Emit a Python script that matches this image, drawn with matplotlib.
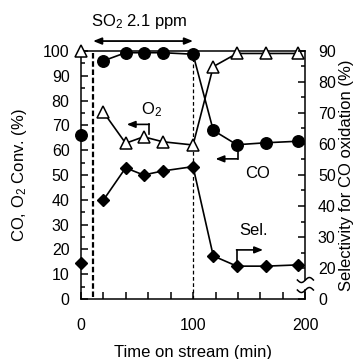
import matplotlib
matplotlib.use("Agg")
import matplotlib.pyplot as plt
from matplotlib.ticker import MultipleLocator, FixedLocator
import numpy as np

plt.rcParams['font.family'] = ['Liberation Sans', 'DejaVu Sans']
plt.rcParams['mathtext.fontset'] = 'custom'
plt.rcParams['mathtext.rm'] = 'Liberation Sans'
plt.rcParams['mathtext.it'] = 'Liberation Sans'

# ---- data ----
time = [0, 20, 40, 56, 73, 100, 118, 139, 165, 193]
co_conv = [66, 96, 99.3, 99.3, 99.3, 98.7, 68, 62.2, 63, 63.6]
o2_conv = [100, 75.5, 62.8, 65.4, 63.4, 62.1, 93.7, 99, 99, 99]
selectivity = [21.7, 41.8, 52.3, 50.0, 51.3, 52.7, 23.9, 20.6, 20.6, 21.0]

so2_on, so2_off = 11, 100
so2_label = "SO$_2$ 2.1 ppm"

x_ticks = [0, 100, 200]
y_ticks = list(range(0, 101, 10))
sel_ticks = [10, 20, 30, 40, 50, 60, 70, 80, 90]
sel_tick_labels = ['0', '20', '30', '40', '50', '60', '70', '80', '90']

fig = plt.figure(figsize=(3.61, 3.59), dpi=100)
ax = fig.add_axes([0.2235, 0.1671, 0.6225, 0.6909])
ax2 = ax.twinx()

lw = 1.2
ms_c, ms_t, ms_d = 8.3, 9.2, 6.0
# CO conversion
ax.plot(time[:1], co_conv[:1], 'o', color='black', ms=ms_c, clip_on=False, zorder=5)
ax.plot(time[1:], co_conv[1:], '-o', color='black', lw=lw, ms=ms_c, clip_on=False, zorder=5)
# O2 conversion
ax.plot(time[:1], o2_conv[:1], '^', mfc='white', mec='black', mew=1.1, ms=ms_t, clip_on=False, zorder=6)
ax.plot(time[1:], o2_conv[1:], '-^', color='black', mfc='white', mec='black', mew=1.1,
        lw=lw, ms=ms_t, clip_on=False, zorder=6)
# Selectivity (right axis)
ax2.plot(time[:1], selectivity[:1], 'D', color='black', ms=ms_d, clip_on=False, zorder=5)
ax2.plot(time[1:], selectivity[1:], '-D', color='black', lw=lw, ms=ms_d, clip_on=False, zorder=5)

# vertical markers of SO2 start / stop
ax.plot([so2_on, so2_on], [1, 99], color='black', lw=1.6, ls=(0, (2.5, 1.2)), zorder=2)
ax.plot([so2_off, so2_off], [0, 97], color='black', lw=0.9, ls=(0, (3, 2)), zorder=2)

# SO2 double arrow above the axes
ax.annotate('', xy=(so2_on, 104), xytext=(so2_off, 104), xycoords='data',
            arrowprops=dict(arrowstyle='<|-|>,head_length=0.5,head_width=0.2',
                            color='black', lw=1.3, shrinkA=0, shrinkB=0),
            annotation_clip=False)
ax.text(52, 111.7, so2_label, ha='center', va='center', fontsize=12, clip_on=False)

# bent arrows and labels
arrow_kw = dict(arrowstyle='-|>,head_length=0.5,head_width=0.2', color='black', lw=1.2,
                shrinkA=0, shrinkB=0)
# O2
ax.plot([61, 61], [66.4, 70.4], color='black', lw=1.2)
ax.annotate('', xy=(41, 70.4), xytext=(61, 70.4), arrowprops=arrow_kw)
ax.text(63.4, 76.2, "O$_2$", ha='center', va='center', fontsize=12)
# CO
ax.plot([139.6, 139.6], [62, 56.5], color='black', lw=1.2)
ax.annotate('', xy=(120, 56.5), xytext=(139.6, 56.5), arrowprops=arrow_kw)
ax.text(157.6, 50.6, "CO", ha='center', va='center', fontsize=12)
# Sel.
ax.plot([138.7, 138.7], [13.3, 19.8], color='black', lw=1.2)
ax.annotate('', xy=(162.3, 19.8), xytext=(138.7, 19.8), arrowprops=arrow_kw)
ax.text(153.6, 27.5, "Sel.", ha='center', va='center', fontsize=12)

# axes limits and ticks
ax.set_xlim(0, 200)
ax.set_ylim(0, 100)
ax2.set_ylim(10, 90)
ax.set_xticks(x_ticks)
ax.xaxis.set_minor_locator(FixedLocator([20, 40, 60, 80, 120, 140, 160, 180]))
ax.set_yticks(y_ticks)
ax.yaxis.set_minor_locator(MultipleLocator(5))
ax2.set_yticks(sel_ticks)
ax2.set_yticklabels(sel_tick_labels)
ax2.yaxis.set_minor_locator(FixedLocator([25, 35, 45, 55, 65, 75, 85]))

ax.tick_params(axis='x', which='both', direction='in', length=5, width=1.1, top=False,
               labelsize=11.5, pad=14)
ax.tick_params(axis='y', which='major', direction='in', length=5, width=1.1, right=False,
               labelsize=11.5, pad=8)
ax.tick_params(axis='y', which='minor', direction='in', length=3, width=1.1, right=False)
ax2.tick_params(axis='y', which='major', direction='in', length=5, width=1.1,
                labelsize=11.5, pad=9)
ax2.tick_params(axis='y', which='minor', direction='in', length=3, width=1.1)

for a in (ax, ax2):
    for s in a.spines.values():
        s.set_linewidth(1.1)
ax.spines['right'].set_visible(False)
for side in ('right', 'left', 'top', 'bottom'):
    ax2.spines[side].set_visible(False)

# broken right spine with wave marks
tr = ax.transAxes
px_w, px_h = 224.8, 248.0
gap_lo, gap_hi = 9 / px_h, 19 / px_h
ax.plot([1, 1], [0, gap_lo], color='black', lw=1.1, transform=tr, clip_on=False)
ax.plot([1, 1], [gap_hi, 1], color='black', lw=1.1, transform=tr, clip_on=False)
u = np.linspace(0, 1, 30)
for yc in (gap_lo, gap_hi):
    xs = 1 + (-8 + 16 * u) / px_w
    ys = yc - 2.5 * np.sin(2 * np.pi * u) / px_h
    ax.plot(xs, ys, color='black', lw=1.1, transform=tr, clip_on=False)

ax.set_xlabel("Time on stream (min)", fontsize=12, labelpad=8)
ax.set_ylabel("CO, O$_2$ Conv. (%)", fontsize=12, labelpad=10)
ax2.set_ylabel("Selectivity for CO oxidation (%)", fontsize=12, labelpad=2)

fig.savefig("out.png", dpi=100)
